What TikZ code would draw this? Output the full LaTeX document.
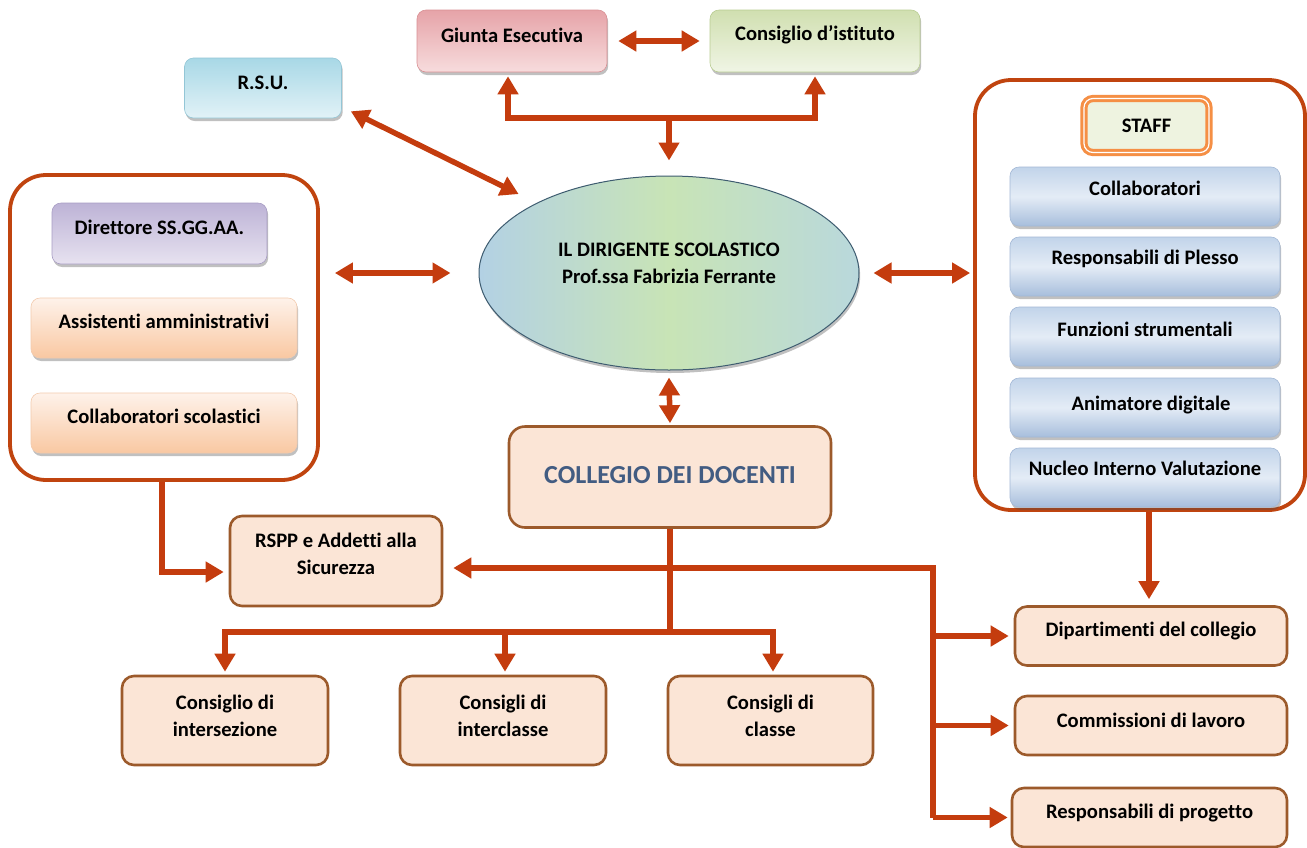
\documentclass[tikz,border=0pt]{standalone}
\usepackage{fontspec}
\setmainfont{Carlito}[Ligatures=NoCommon]
\usetikzlibrary{arrows.meta,shapes.geometric,shadows,calc}
\definecolor{arrowc}{HTML}{C43C0E}
\definecolor{contc}{HTML}{C0440F}
\definecolor{peach}{HTML}{FBE5D6}
\definecolor{pbord}{HTML}{9C5A2B}
\definecolor{colltext}{HTML}{425C82}
\definecolor{stafforange}{HTML}{F58F45}
\definecolor{staffill}{HTML}{EEF3E0}
\definecolor{A3B8D6}{HTML}{A3B8D6}
\definecolor{C2D4EA}{HTML}{C2D4EA}
\definecolor{A7BEDC}{HTML}{A7BEDC}
\definecolor{E4ECF6}{HTML}{E4ECF6}
\definecolor{F3CBAE}{HTML}{F3CBAE}
\definecolor{FEF2EA}{HTML}{FEF2EA}
\definecolor{F9C8A2}{HTML}{F9C8A2}
\definecolor{ellL}{HTML}{B3D1E4}
\definecolor{ellR}{HTML}{B9D8DC}
\definecolor{ellM}{HTML}{C8E4B6}
\begin{document}
\begin{tikzpicture}[x=1pt,y=-1pt,
  font=\fontsize{20.6}{27}\selectfont\bfseries,
  arr/.style={draw=arrowc, line width=5.5pt, -{Triangle[width=20pt,length=18pt]}},
  darr/.style={draw=arrowc, line width=5.5pt, {Triangle[width=20pt,length=18pt]}-{Triangle[width=20pt,length=18pt]}},
  ln/.style={draw=arrowc, line width=5.5pt},
  txt/.style={inner sep=0pt, align=center},
  cont/.style={draw=contc, line width=3.8pt, rounded corners=36pt, fill=white, inner sep=0pt},
  pbox/.style={draw=pbord, fill=peach, line width=2.6pt, rounded corners=12pt, inner sep=0pt},
  shad/.style={drop shadow={shadow xshift=1.2pt, shadow yshift=-3pt, opacity=.35, fill=black!70}},
  gbox/.style={rounded corners=9pt, inner sep=0pt, line width=.6pt, shad},
  bluebox/.style={gbox, draw=A3B8D6, top color=C2D4EA, bottom color=A7BEDC, middle color=E4ECF6, minimum width=270pt, minimum height=59pt},
  peachbox/.style={gbox, draw=F3CBAE, top color=FEF2EA, bottom color=F9C8A2, minimum width=266pt, minimum height=60pt},
]
\useasboundingbox (0,0) rectangle (1307,847);
\fill[white] (0,0) rectangle (1307,847);

% containers
\node[cont, minimum width=308pt, minimum height=305pt] (leftc) at (164,327.5) {};
\node[cont, minimum width=330pt, minimum height=430pt] (rightc) at (1140,295) {};

% top boxes
\node[gbox, draw={rgb,255:red,217;green,144;blue,148}, top color={rgb,255:red,230;green,163;blue,168}, bottom color={rgb,255:red,247;green,220;blue,221}, minimum width=190pt, minimum height=62pt] (giunta) at (512,41) {};
\node[txt] (giunta-t) at ([yshift=6pt]giunta.center) {Giunta Esecutiva};
\node[gbox, draw={rgb,255:red,185;green,204;blue,146}, top color={rgb,255:red,208;green,223;blue,176}, bottom color={rgb,255:red,240;green,245;blue,229}, minimum width=210pt, minimum height=62pt] (consiglio) at (815,41) {};
\node[txt] (consiglio-t) at ([yshift=6pt]consiglio.center) {Consiglio d’istituto};
\node[gbox, draw={rgb,255:red,147;green,198;blue,214}, top color={rgb,255:red,168;green,216;blue,230}, bottom color={rgb,255:red,226;green,242;blue,247}, minimum width=157pt, minimum height=60pt] (rsu) at (263,88) {};
\node[txt] (rsu-t) at ([yshift=5pt]rsu.center) {R.S.U.};

% left group
\node[gbox, draw={rgb,255:red,168;green,157;blue,196}, top color={rgb,255:red,189;green,179;blue,214}, bottom color={rgb,255:red,231;green,226;blue,240}, minimum width=215pt, minimum height=61pt] (dsga) at (159.5,233.5) {};
\node[txt] (dsga-t) at ([yshift=6pt]dsga.center) {Direttore SS.GG.AA.};
\node[peachbox] (assist) at (164,328) {};
\node[txt] (assist-t) at ([yshift=7pt]assist.center) {Assistenti amministrativi};
\node[peachbox] (colsc) at (164,423) {};
\node[txt] (colsc-t) at ([yshift=7pt]colsc.center) {Collaboratori scolastici};

% ellipse
\node[ellipse, draw={rgb,255:red,62;green,92;blue,112}, line width=1pt, left color=ellL, right color=ellR, middle color=ellM, minimum width=380pt, minimum height=194pt, shad] (ell) at (669,273) {};
\node[txt] (ell-t) at (669,263) {IL DIRIGENTE SCOLASTICO\\Prof.ssa Fabrizia Ferrante};

% collegio
\node[pbox, minimum width=322pt, minimum height=101pt, rounded corners=16pt] (coll) at (670,477) {};
\node[txt, text=colltext, font=\fontsize{26}{31}\selectfont\bfseries] (coll-t) at ([yshift=2pt]coll.center) {COLLEGIO DEI DOCENTI};

% staff
\node[draw=stafforange, double=white, double distance=1.2pt, line width=3pt, fill=staffill, rounded corners=9pt, minimum width=125pt, minimum height=54pt, inner sep=0pt] (staff) at (1146.5,125.5) {};
\node[txt] (staff-t) at (staff.center) {STAFF};
\node[bluebox] (collab) at (1145,196.5) {};
\node[txt] (collab-t) at ([yshift=8pt]collab.center) {Collaboratori};
\node[bluebox] (plesso) at (1145,266.5) {};
\node[txt] (plesso-t) at ([yshift=7.5pt]plesso.center) {Responsabili di Plesso};
\node[bluebox] (funz) at (1145,336.5) {};
\node[txt] (funz-t) at ([yshift=7.5pt]funz.center) {Funzioni strumentali};
\node[bluebox] (anim) at (1145,407.5) {};
\node[txt] (anim-t) at ([xshift=6pt,yshift=2pt]anim.center) {Animatore digitale};
\node[bluebox] (nucleo) at (1145,477.5) {};
\node[txt] (nucleo-t) at ([yshift=9pt]nucleo.center) {Nucleo Interno Valutazione};

% lower boxes
\node[pbox, minimum width=212pt, minimum height=90pt] (rspp) at (336,561) {};
\node[txt] (rspp-t) at ([yshift=7.5pt]rspp.center) {RSPP e Addetti alla\\Sicurezza};
\node[pbox, minimum width=206pt, minimum height=89pt] (inters) at (225,720.5) {};
\node[txt] (inters-t) at ([yshift=5pt]inters.center) {Consiglio di\\intersezione};
\node[pbox, minimum width=206pt, minimum height=89pt] (intercl) at (503,720.5) {};
\node[txt] (intercl-t) at ([yshift=5pt]intercl.center) {Consigli di\\interclasse};
\node[pbox, minimum width=205pt, minimum height=89pt] (classe) at (770.5,720.5) {};
\node[txt] (classe-t) at ([yshift=5pt]classe.center) {Consigli di\\classe};
\node[pbox, minimum width=272pt, minimum height=59pt] (dip) at (1151,636) {};
\node[txt] (dip-t) at ([yshift=5pt]dip.center) {Dipartimenti del collegio};
\node[pbox, minimum width=272pt, minimum height=59pt] (comm) at (1151,725.5) {};
\node[txt] (comm-t) at ([yshift=5.5pt]comm.center) {Commissioni di lavoro};
\node[pbox, minimum width=275pt, minimum height=59pt] (resp) at (1149.5,817.5) {};
\node[txt] (resp-t) at ([yshift=4.5pt]resp.center) {Responsabili di progetto};

% connectors
\coordinate (topJ) at (669,118);
\draw[darr] ([xshift=11pt]giunta.east) -- ([xshift=-10pt]consiglio.west);
\draw[arr] (topJ) -| ([xshift=-4pt,yshift=-4pt]giunta.south);
\draw[arr] (topJ) -| ([yshift=-4pt]consiglio.south);
\draw[arr] (topJ) -- ([yshift=15pt]ell.north);
\draw[darr] ([xshift=9pt,yshift=7pt]rsu.south east) -- ([xshift=-24pt,yshift=6pt]ell.150);
\draw[darr] ([xshift=15pt]leftc.east |- ell.west) -- ([xshift=-28pt]ell.west);
\draw[darr] ([xshift=14pt]ell.east) -- ([xshift=-3pt]rightc.west |- ell.east);
\draw[darr] ([yshift=-7pt]ell.south) -- ([yshift=2pt]coll.north);

\coordinate (treeJ) at (670,632);
\coordinate (brJ) at (670,568);
\coordinate (brC) at (933,568);
\draw[ln] (coll.south) -- (treeJ);
\draw[arr] (treeJ) -| ([yshift=3pt]inters.north);
\draw[arr] (treeJ) -| ([xshift=2pt,yshift=3pt]intercl.north);
\draw[arr] (treeJ) -| ([xshift=2.5pt,yshift=3pt]classe.north);
\draw[arr] (brJ) -- ([xshift=10pt]rspp.east |- brJ);
\draw[ln] (brJ) -- (brC) -- (brC |- resp.west);
\draw[arr] (brC |- dip.west) -- ([xshift=-5pt]dip.west);
\draw[arr] (brC |- comm.west) -- ([xshift=-5pt]comm.west);
\draw[arr] (brC |- resp.west) -- ([xshift=-3pt]resp.west);
\draw[arr] ([xshift=-2pt]leftc.south) |- ([xshift=-5pt,yshift=-11pt]rspp.west);
\draw[arr] ([xshift=9pt]rightc.south) -- ([xshift=9pt,yshift=6pt]rightc.south |- dip.north);
\end{tikzpicture}
\end{document}
